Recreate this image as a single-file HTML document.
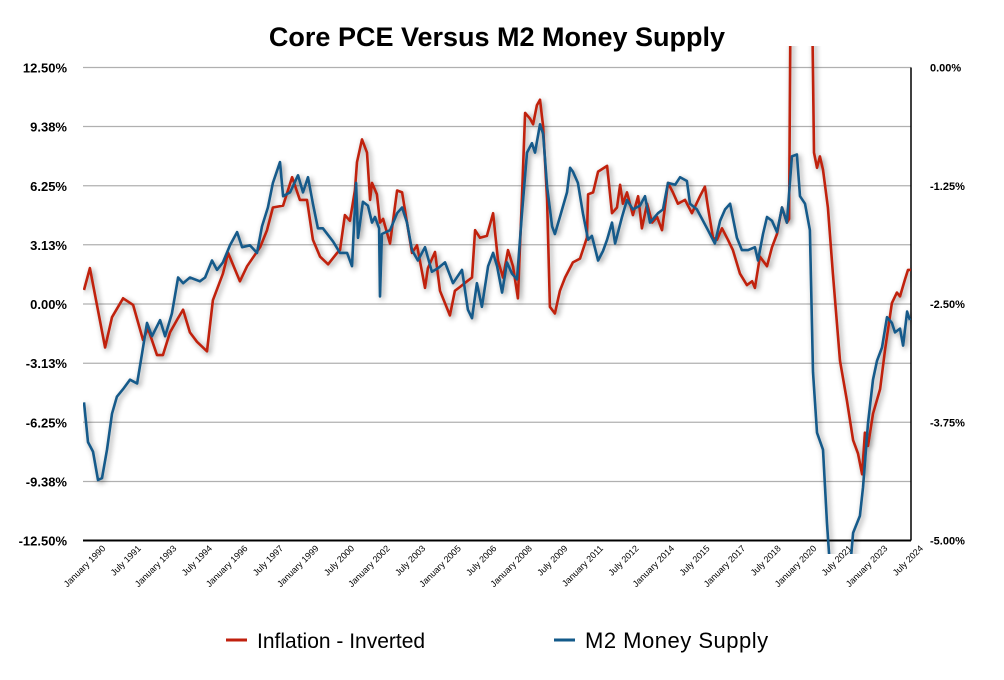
<!DOCTYPE html>
<html><head><meta charset="utf-8"><style>
body{margin:0;background:#fff;}
svg{display:block;font-family:"Liberation Sans",Arial,sans-serif;}
</style></head><body>
<svg id="chart" width="1004" height="680" viewBox="0 0 1004 680" xmlns="http://www.w3.org/2000/svg">
<defs>
<filter id="shadow" x="-5%" y="-5%" width="110%" height="110%">
<feGaussianBlur in="SourceAlpha" stdDeviation="3"/>
<feOffset dx="2" dy="2" result="b"/>
<feComponentTransfer><feFuncA type="linear" slope="0.45"/></feComponentTransfer>
<feMerge><feMergeNode/><feMergeNode in="SourceGraphic"/></feMerge>
</filter>
<clipPath id="plotclip"><rect x="83" y="46" width="829" height="508"/></clipPath>
</defs>
<text x="497" y="46" text-anchor="middle" font-size="27" font-weight="bold">Core PCE Versus M2 Money Supply</text>
<g id="grid"></g>
<g id="xlabels"></g>
<g id="series" clip-path="url(#plotclip)" filter="url(#shadow)"></g>
<g>
<line x1="226" y1="640" x2="247" y2="640" stroke="#c0200e" stroke-width="3"/>
<text x="257" y="648" font-size="21">Inflation - Inverted</text>
<line x1="554" y1="640" x2="575" y2="640" stroke="#135a8a" stroke-width="3"/>
<text x="585" y="648" font-size="22" letter-spacing="0.5">M2 Money Supply</text>
</g>
</svg>
<script>
const leftTicks=[12.5,9.38,6.25,3.13,0,-3.13,-6.25,-9.38,-12.5];
const leftTickLabels=["12.50%","9.38%","6.25%","3.13%","0.00%","-3.13%","-6.25%","-9.38%","-12.50%"];
const rightTicks=[12.5,6.25,0,-6.25,-12.5];
const rightTickLabels=["0.00%","-1.25%","-2.50%","-3.75%","-5.00%"];
const xTickYears=[1990,1991.5,1993,1994.5,1996,1997.5,1999,2000.5,2002,2003.5,2005,2006.5,2008,2009.5,2011,2012.5,2014,2015.5,2017,2018.5,2020,2021.5,2023,2024.5];
const xTickLabels=["January 1990","July 1991","January 1993","July 1994","January 1996","July 1997","January 1999","July 2000","January 2002","July 2003","January 2005","July 2006","January 2008","July 2009","January 2011","July 2012","January 2014","July 2015","January 2017","July 2018","January 2020","July 2021","January 2023","July 2024"];
const inflationYears=[1990.00,1990.25,1990.89,1991.18,1991.65,1992.07,1992.49,1992.70,1993.08,1993.33,1993.63,1993.92,1994.18,1994.47,1994.77,1995.19,1995.44,1995.86,1996.08,1996.58,1996.88,1997.43,1997.72,1997.97,1998.40,1998.78,1999.11,1999.41,1999.66,1999.96,2000.30,2000.68,2000.80,2001.01,2001.22,2001.43,2001.52,2001.73,2001.94,2002.07,2002.15,2002.36,2002.49,2002.62,2002.91,2003.21,2003.42,2003.63,2003.84,2004.05,2004.39,2004.51,2004.81,2005.02,2005.44,2005.65,2005.86,2006.16,2006.37,2006.50,2006.71,2007.00,2007.26,2007.47,2007.68,2007.89,2008.10,2008.31,2008.48,2008.61,2008.82,2008.95,2009.11,2009.24,2009.37,2009.54,2009.66,2009.87,2010.08,2010.30,2010.63,2010.93,2011.22,2011.27,2011.48,2011.69,2012.07,2012.28,2012.49,2012.62,2012.74,2012.91,2013.16,2013.38,2013.54,2013.76,2013.97,2014.18,2014.39,2014.64,2014.85,2015.06,2015.36,2015.65,2015.99,2016.20,2016.33,2016.54,2016.71,2016.92,2017.17,2017.38,2017.68,2017.97,2018.19,2018.31,2018.52,2018.82,2019.03,2019.24,2019.45,2019.66,2019.75,2019.83,2020.68,2020.80,2020.93,2021.05,2021.18,2021.39,2021.60,2021.77,2021.90,2022.19,2022.45,2022.66,2022.83,2022.95,2023.08,2023.29,2023.59,2023.80,2024.09,2024.30,2024.43,2024.64,2024.77,2024.89];
const inflationValues=[0.74,1.9,-2.3,-0.7,0.3,-0.05,-1.9,-1.3,-2.7,-2.7,-1.5,-0.85,-0.3,-1.5,-2.0,-2.5,0.2,1.6,2.7,1.2,2.0,3.0,3.9,5.1,5.2,6.7,5.5,5.5,3.4,2.5,2.1,2.7,2.85,4.7,4.4,6.0,7.5,8.7,8.0,5.5,6.4,5.8,4.3,4.5,3.2,6.0,5.9,4.3,2.7,3.1,0.85,1.9,2.75,0.7,-0.6,0.7,0.9,1.2,1.4,3.9,3.5,3.6,4.8,2.3,1.4,2.85,2.0,0.3,5.7,10.1,9.8,9.5,10.5,10.8,9.4,5.5,-0.15,-0.5,0.7,1.4,2.2,2.4,3.5,5.8,5.9,7.0,7.3,4.8,5.1,6.3,5.3,5.9,4.7,5.7,4.0,5.3,4.3,4.6,3.9,6.4,5.9,5.3,5.5,4.8,5.7,6.2,5.1,3.5,3.4,4.0,3.4,2.85,1.6,1.0,1.2,0.85,2.5,2.0,3.0,3.7,5.1,4.3,4.5,20,20,8,7.2,7.8,7.1,5.1,1.6,-1.0,-3.0,-5.1,-7.2,-7.9,-9.0,-6.8,-7.5,-5.8,-4.5,-2.4,0.05,0.6,0.4,1.3,1.8,1.8];
const m2Years=[1990.00,1990.17,1990.38,1990.59,1990.76,1990.97,1991.18,1991.39,1991.65,1991.94,1992.24,1992.45,1992.66,1992.87,1993.21,1993.42,1993.71,1993.97,1994.18,1994.47,1994.89,1995.11,1995.40,1995.61,1995.86,1996.16,1996.46,1996.67,1997.00,1997.30,1997.51,1997.76,1997.97,1998.27,1998.40,1998.69,1999.03,1999.24,1999.45,1999.66,1999.87,2000.08,2000.51,2000.80,2001.10,2001.31,2001.48,2001.56,2001.77,2001.98,2002.15,2002.28,2002.45,2002.49,2002.57,2002.91,2003.21,2003.42,2003.63,2003.84,2004.09,2004.39,2004.68,2004.94,2005.23,2005.57,2005.95,2006.20,2006.37,2006.58,2006.79,2007.05,2007.26,2007.43,2007.64,2007.85,2008.06,2008.27,2008.48,2008.69,2008.90,2009.03,2009.24,2009.37,2009.54,2009.75,2009.87,2010.08,2010.38,2010.51,2010.63,2010.84,2011.05,2011.27,2011.43,2011.69,2011.90,2012.07,2012.28,2012.41,2012.70,2012.91,2013.16,2013.46,2013.67,2013.88,2014.22,2014.43,2014.64,2014.94,2015.15,2015.44,2015.57,2015.86,2016.12,2016.33,2016.62,2016.84,2017.05,2017.26,2017.55,2017.76,2018.02,2018.31,2018.44,2018.65,2018.82,2019.03,2019.24,2019.45,2019.66,2019.87,2020.08,2020.21,2020.42,2020.63,2020.76,2020.93,2021.18,2021.35,2021.48,2022.32,2022.45,2022.74,2022.87,2023.08,2023.29,2023.46,2023.67,2023.88,2024.09,2024.22,2024.43,2024.56,2024.73,2024.85];
const m2Values=[-5.2,-7.3,-7.8,-9.3,-9.2,-7.7,-5.8,-4.9,-4.5,-4.0,-4.2,-2.6,-1.0,-1.7,-0.85,-1.7,-0.5,1.4,1.1,1.4,1.2,1.4,2.3,1.8,2.2,3.1,3.8,3.0,3.1,2.7,4.1,5.1,6.4,7.5,5.7,5.9,6.8,5.9,6.7,5.3,4.0,4.0,3.3,2.7,2.7,2.0,6.4,3.5,5.4,5.2,4.3,4.6,4.0,0.4,3.7,3.9,4.8,5.1,4.3,2.85,2.3,3.0,1.7,1.9,2.2,1.1,1.8,-0.3,-0.75,1.1,-0.15,2.0,2.7,2.0,0.6,2.2,1.6,1.3,4.8,8.0,8.5,8.0,9.5,9.0,6.2,4.1,3.7,4.6,5.9,7.2,7.0,6.4,4.8,3.4,3.6,2.3,2.8,3.4,4.3,3.2,4.6,5.5,5.0,5.2,5.7,4.3,4.8,5.0,6.4,6.3,6.7,6.5,5.3,5.0,4.4,3.9,3.2,4.4,5.0,5.3,3.5,2.85,2.85,3.0,2.3,3.7,4.6,4.4,3.8,5.1,4.3,7.8,7.9,5.7,5.3,3.9,-3.6,-6.8,-7.7,-11.6,-14,-14,-12.1,-11.2,-9.7,-6.3,-4.0,-3.0,-2.3,-0.7,-1.0,-1.5,-1.3,-2.2,-0.4,-0.85];

const NS="http://www.w3.org/2000/svg";
const X0=84,PXY=23.7,Y0=304,PXV=18.92;
function xScale(yr){return X0+(yr-1990)*PXY;}
function yScale(v){return Y0-v*PXV;}
function mk(tag,attrs,parent){const e=document.createElementNS(NS,tag);for(const k in attrs)e.setAttribute(k,attrs[k]);parent.appendChild(e);return e;}
const grid=document.getElementById('grid');
leftTicks.forEach((t,i)=>{
  const y=yScale(t);
  const ln=mk('line',{x1:83,x2:911,y1:y,y2:y,stroke:i===leftTicks.length-1?'#000':'#b0b0b0','stroke-width':i===leftTicks.length-1?2:1.2},grid);
  
  
  const tx=mk('text',{x:67,y:y+5,'text-anchor':'end','font-size':13,'font-weight':'bold'},grid);
  tx.textContent=leftTickLabels[i];
  
  
});
rightTicks.forEach((t,i)=>{
  const y=yScale(t);
  const tx=mk('text',{x:930,y:y+4,'font-size':11,'font-weight':'bold'},grid);
  tx.textContent=rightTickLabels[i];
  
  
});
const ra=mk('line',{x1:911,x2:911,y1:yScale(12.5),y2:yScale(-12.5),stroke:'#000','stroke-width':1.5},grid);


const xl=document.getElementById('xlabels');
xTickYears.forEach((yr,i)=>{
  const x=xScale(yr)+22,y=549;
  const tx=mk('text',{x:x,y:y,'text-anchor':'end','font-size':9,transform:`rotate(-45 ${x} ${y})`},xl);
  tx.textContent=xTickLabels[i];
  
  
});
const sg=document.getElementById('series');
function line(years,vals,color,name){
  const d=years.map((yr,i)=>(i?'L':'M')+xScale(yr).toFixed(1)+','+yScale(vals[i]).toFixed(1)).join(' ');
  const p=mk('path',{d:d,fill:'none',stroke:color,'stroke-width':2.6,'stroke-linejoin':'round'},sg);
  
  
}
line(inflationYears,inflationValues,'#c0200e','inflation-inverted-line');
line(m2Years,m2Values,'#135a8a','m2-money-supply-line');
</script>
</body></html>
